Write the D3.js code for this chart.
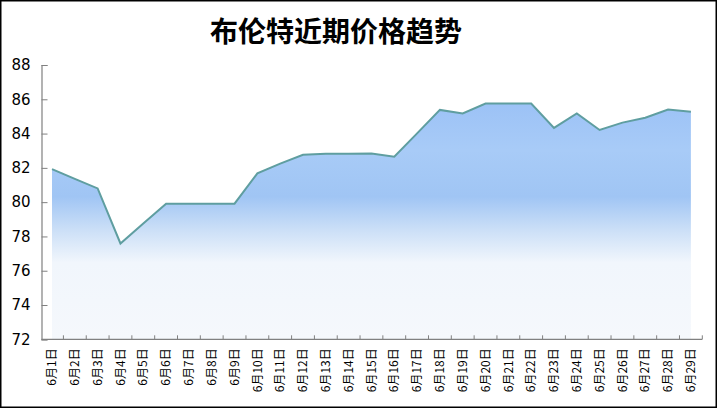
<!DOCTYPE html>
<html>
<head>
<meta charset="utf-8">
<script src="https://cdn.jsdelivr.net/npm/d3@7/dist/d3.min.js"></script>
<style>
html,body{margin:0;padding:0;background:#fff;}
svg{display:block;}
</style>
</head>
<body>
<svg id="chart" width="718" height="409"></svg>
<script>
const title = "布伦特近期价格趋势";
const categories = ["6月1日","6月2日","6月3日","6月4日","6月5日","6月6日","6月7日","6月8日","6月9日","6月10日",
  "6月11日","6月12日","6月13日","6月14日","6月15日","6月16日","6月17日","6月18日","6月19日","6月20日",
  "6月21日","6月22日","6月23日","6月24日","6月25日","6月26日","6月27日","6月28日","6月29日"];
const prices = [81.93,81.36,80.80,77.59,78.75,79.91,79.91,79.91,79.91,81.68,
  82.25,82.76,82.83,82.83,82.84,82.65,84.01,85.38,85.17,85.75,
  85.75,85.75,84.33,85.17,84.21,84.64,84.92,85.40,85.28];
const yTicks = [72,74,76,78,80,82,84,86,88];

const svg = d3.select("#chart");

// outer border
svg.append("rect").attr("x",0.75).attr("y",0.75).attr("width",715.5).attr("height",406.5)
  .attr("fill","#fff").attr("stroke","#000").attr("stroke-width",1.5);

const x = d3.scaleBand().domain(categories).range([40.6, 702.3]).padding(0);
const y = d3.scaleLinear().domain([72, 88]).range([339.3, 65]);
const cx = d => x(d) + x.bandwidth()/2;

// gradient
const defs = svg.append("defs");
const grad = defs.append("linearGradient").attr("id","fillGrad")
  .attr("gradientUnits","userSpaceOnUse").attr("x1",0).attr("x2",0).attr("y1",65).attr("y2",339.3);
[[0.0,"#95bdf5"],[0.14,"#9cc2f6"],[0.31,"#a8cbf7"],[0.48,"#a0c5f4"],[0.60,"#cbdff7"],[0.72,"#f1f6fc"],[1.0,"#f5f8fc"]]
  .forEach(([o,c]) => grad.append("stop").attr("offset",o).attr("stop-color",c));

const data = categories.map((c,i)=>({c, v: prices[i]}));

svg.append("path").datum(data)
  .attr("fill","url(#fillGrad)")
  .attr("d", d3.area().x(d=>cx(d.c)).y0(y(72)).y1(d=>y(d.v)));

svg.append("path").datum(data)
  .attr("fill","none").attr("stroke","#5f9ea0").attr("stroke-width",2).attr("stroke-linejoin","miter")
  .attr("d", d3.line().x(d=>cx(d.c)).y(d=>y(d.v)));

// y axis
const yAxis = svg.append("g").attr("transform","translate(41.5,0)")
  .call(d3.axisLeft(y).tickValues(yTicks).tickSize(-6).tickPadding(11).tickFormat(d3.format("d")));
yAxis.select(".domain").attr("stroke","#808080").attr("stroke-width",1.2);
yAxis.selectAll(".tick line").attr("stroke","#808080");
yAxis.selectAll(".tick text").attr("font-family","DejaVu Sans, sans-serif").attr("font-size","15px").attr("fill","#000");

// x axis
const xAxis = svg.append("g").attr("transform","translate(0,339.3)")
  .call(d3.axisBottom(x).tickSize(0).tickSizeOuter(0));
xAxis.select(".domain").attr("stroke","#808080").attr("stroke-width",1.2)
  .attr("d", `M41.5,0H${x.range()[1]}`);
xAxis.selectAll(".tick line").remove();
// boundary ticks between bands (inward)
const bounds = categories.slice(1).map(c => x(c)).concat([x.range()[1]]);
xAxis.selectAll(".btick").data(bounds).enter().append("line")
  .attr("x1",d=>d).attr("x2",d=>d).attr("y1",0).attr("y2",-4)
  .attr("stroke","#808080").attr("stroke-width",1);
xAxis.selectAll(".tick text")
  .attr("transform","rotate(-90)")
  .attr("text-anchor","end")
  .attr("x",-9).attr("y",0).attr("dy","0.35em")
  .attr("font-family","Noto Sans CJK SC, sans-serif").attr("font-size","12px").attr("fill","#000");

// title
svg.append("text").attr("x",336).attr("y",30).attr("dominant-baseline","central")
  .attr("text-anchor","middle").attr("font-family","Noto Sans CJK SC, sans-serif")
  .attr("font-weight","bold").attr("font-size","28px").attr("fill","#000").text(title);
</script>
</body>
</html>
